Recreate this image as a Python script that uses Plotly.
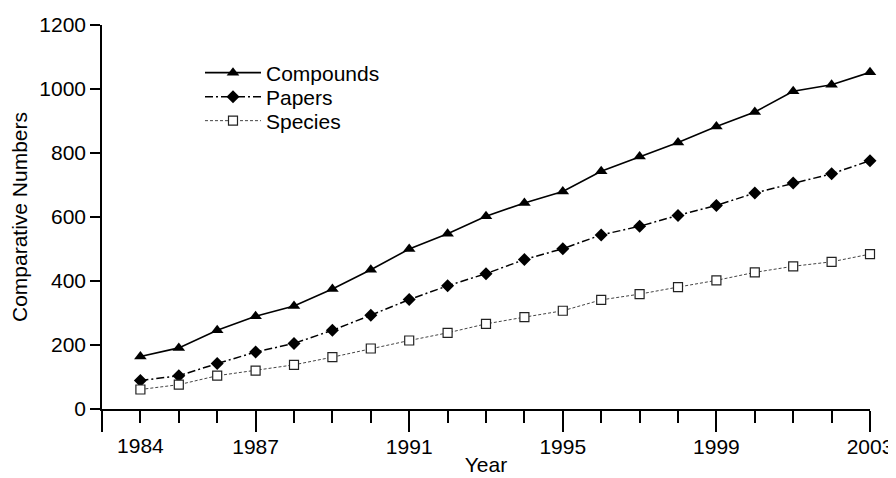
import plotly.graph_objects as go

years = list(range(1984, 2004))
compounds = [164, 191, 246, 290, 322, 375, 435, 500, 548, 602, 644, 680, 743, 789, 833, 883, 928, 993, 1013, 1052]
papers = [89, 104, 142, 178, 205, 246, 293, 342, 385, 423, 467, 501, 544, 571, 605, 636, 675, 706, 735, 776]
species = [61, 76, 104, 120, 138, 162, 189, 214, 238, 266, 287, 307, 341, 359, 381, 402, 427, 446, 460, 484]

major_x = [1983, 1987, 1991, 1995, 1999, 2003]
major_x_text = ["", "1987", "1991", "1995", "1999", "2003"]
first_label_x = [1984]
first_label_text = ["1984"]
y_ticks = [0, 200, 400, 600, 800, 1000, 1200]

FONT = "Liberation Sans, Arial, Helvetica, sans-serif"
FS = 21

fig = go.Figure()
fig.add_trace(go.Scatter(
    x=years, y=compounds, name="Compounds", mode="lines+markers",
    line=dict(color="black", width=1.6),
    marker=dict(symbol="triangle-up", size=11, color="black"),
    cliponaxis=False, legend="legend",
))
fig.add_trace(go.Scatter(
    x=years, y=papers, name="Papers", mode="lines+markers",
    line=dict(color="black", width=1.5, dash="8px,3px,2px,3px"),
    marker=dict(symbol="diamond", size=10, color="black"),
    cliponaxis=False, legend="legend2",
))
fig.add_trace(go.Scatter(
    x=years, y=species, name="Species", mode="lines+markers",
    line=dict(color="#444444", width=1, dash="3px,2px"),
    marker=dict(symbol="square", size=9, color="white", line=dict(color="#222222", width=1.2)),
    cliponaxis=False, legend="legend3",
))
# invisible trace to activate the secondary x axis for the first label
fig.add_trace(go.Scatter(x=[1984], y=[None], xaxis="x2", showlegend=False, hoverinfo="skip"))

def leg(y):
    return dict(x=0.1276, y=y, xanchor="left", yanchor="middle",
                bgcolor="rgba(0,0,0,0)", font=dict(size=FS), itemwidth=56)

fig.update_layout(
    width=888, height=470,
    margin=dict(l=94, r=26, t=17, b=69),
    paper_bgcolor="white", plot_bgcolor="white",
    font=dict(family=FONT, size=FS, color="black"),
    showlegend=True,
    legend=leg(0.875), legend2=leg(0.8125), legend3=leg(0.75),
    xaxis=dict(
        range=[1983, 2003], tickmode="array", tickvals=major_x, ticktext=major_x_text,
        ticks="outside", ticklen=21, tickwidth=1.5, tickcolor="black",
        minor=dict(tickmode="linear", tick0=1983, dtick=1, ticks="outside", ticklen=12, tickwidth=1.5, tickcolor="black"),
        showline=True, linecolor="black", linewidth=1.5, showgrid=False, zeroline=False,
        title=dict(text="Year", standoff=0, font=dict(size=FS)),
        tickfont=dict(size=FS), automargin=False, ticklabelstandoff=-3,
    ),
    xaxis2=dict(
        range=[1983, 2003], overlaying="x", anchor="y", side="bottom",
        tickmode="array", tickvals=first_label_x, ticktext=first_label_text,
        ticks="outside", ticklen=21, tickcolor="rgba(0,0,0,0)",
        showline=False, showgrid=False, zeroline=False, tickfont=dict(size=FS),
        automargin=False, ticklabelstandoff=-3,
    ),
    yaxis=dict(
        range=[0, 1200], tickmode="array", tickvals=y_ticks,
        ticks="outside", ticklen=10, tickwidth=1.5, tickcolor="black",
        showline=True, linecolor="black", linewidth=1.5, showgrid=False, zeroline=False,
        title=dict(text="Comparative Numbers", standoff=12, font=dict(size=FS)),
        tickfont=dict(size=FS), automargin=False,
    ),
)

fig.write_html("out.html")
